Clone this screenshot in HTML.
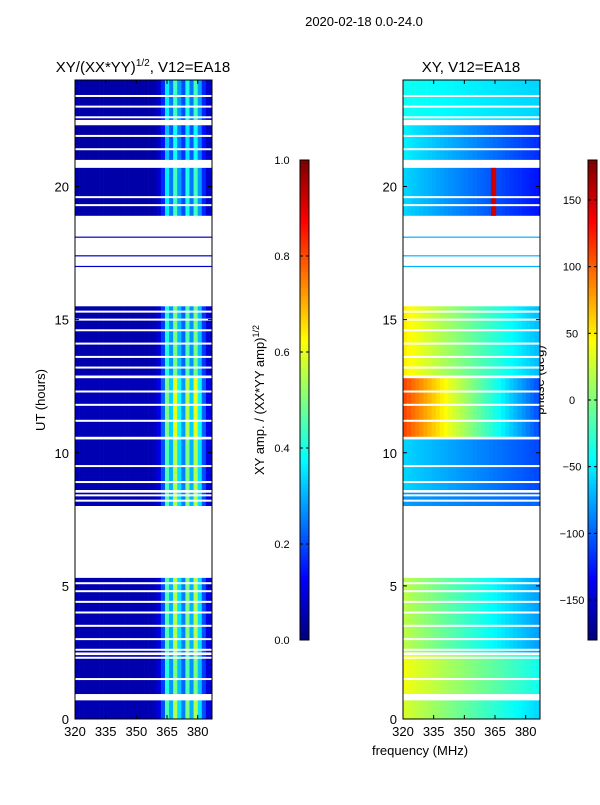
<!DOCTYPE html>
<html><head><meta charset="utf-8"><style>
body{margin:0;background:#fff;font-family:"Liberation Sans",sans-serif}
svg text{font-family:"Liberation Sans",sans-serif;fill:#000}
</style></head><body>
<svg id="fig" width="600" height="800" xmlns="http://www.w3.org/2000/svg">
<defs>
<clipPath id="c1"><rect x="75" y="80" width="137" height="639"/></clipPath>
<clipPath id="c2"><rect x="403" y="80" width="137" height="639"/></clipPath>
</defs>
<text x="364" y="26" font-size="13" text-anchor="middle">2020-02-18 0.0-24.0</text>
<text x="143" y="72" font-size="15" text-anchor="middle">XY/(XX*YY)<tspan font-size="10" dy="-6">1/2</tspan><tspan dy="6">, V12=EA18</tspan></text>
<text x="471" y="72" font-size="15" text-anchor="middle">XY, V12=EA18</text>
<text transform="translate(45,400) rotate(-90)" font-size="13" text-anchor="middle">UT (hours)</text>
<text x="420" y="755" font-size="13" text-anchor="middle">frequency (MHz)</text>
<text transform="translate(264,400) rotate(-90)" font-size="13" text-anchor="middle">XY amp. / (XX*YY amp)<tspan font-size="9" dy="-5">1/2</tspan></text>
<text transform="translate(544,380) rotate(-90)" font-size="13" text-anchor="middle">phase (deg)</text>
<g id="left" clip-path="url(#c1)"></g>
<g id="right" clip-path="url(#c2)"></g>
<g id="axes"></g>
</svg>
<script>
// data
const freqBins = [320,322,324,326,328,330,332,334,336,338,340,342,344,346,348,350,352,354,356,358,360,362,364,366,368,370,372,374,376,378,380,382,384,386];
const ampProfile = [0.05,0.05,0.05,0.05,0.05,0.05,0.05,0.05,0.05,0.05,0.05,0.05,0.05,0.05,0.05,0.05,0.05,0.05,0.05,0.06,0.1,0.2,0.45,0.3,0.55,0.35,0.25,0.5,0.3,0.55,0.35,0.2,0.1,0.08];
const segStart = [0.0,0.9,2.5,8.0,8.6,10.6,12.9,18.9,21.0,22.5];
const segEnd   = [0.7,2.4,5.3,8.5,10.5,12.8,15.5,20.7,22.3,24.0];
const segAmpScale = [1.0,0.9,1.0,1.0,1.0,1.1,0.9,0.8,0.7,0.8];
const segPhaseLeft  = [30,40,20,-80,-60,110,50,-60,-50,-40];
const segPhaseRight = [-60,-40,-80,-100,-110,-110,-70,-130,-120,-60];
const gapLines = [0.9,1.5,2.3,2.6,3.0,3.5,4.0,4.4,4.8,5.1,8.2,8.4,8.9,9.5,11.2,11.8,12.3,13.2,13.6,14.1,14.6,15.0,15.3,19.3,19.6,21.4,21.9,22.6,23.0,23.4];
const singleLines = [17.0,17.4,18.1];
const ampTicks=[0,0.2,0.4,0.6,0.8,1.0];
const phaseTicks=[-150,-100,-50,0,50,100,150];
const xTicks=[320,335,350,365,380];
const yTicks=[0,5,10,15,20];

const NS="http://www.w3.org/2000/svg";
const P1={x0:75,x1:212},P2={x0:403,x1:540},Y0=719,Y1=80;
const fx=(p,f)=>p.x0+(f-320)*(p.x1-p.x0)/67;
const fy=h=>Y0-h*(Y0-Y1)/24;
function jet(v){v=Math.max(0,Math.min(1,v));
 const r=Math.max(0,Math.min(1,1.5-Math.abs(4*v-3))),g=Math.max(0,Math.min(1,1.5-Math.abs(4*v-2))),b=Math.max(0,Math.min(1,1.5-Math.abs(4*v-1)));
 return `rgb(${Math.round(r*255)},${Math.round(g*255)},${Math.round(b*255)})`;}
function rect(g,x,y,w,h,fill,name){const r=document.createElementNS(NS,'rect');
 r.setAttribute('x',x);r.setAttribute('y',y);r.setAttribute('width',w);r.setAttribute('height',h);r.setAttribute('fill',fill);
 
 
 g.appendChild(r);return r;}
function line(g,x1,y1,x2,y2,w,c){const l=document.createElementNS(NS,'line');
 l.setAttribute('x1',x1);l.setAttribute('y1',y1);l.setAttribute('x2',x2);l.setAttribute('y2',y2);l.setAttribute('stroke',c||'#000');l.setAttribute('stroke-width',w||1);g.appendChild(l);return l;}
function text(g,x,y,s,anchor,size){const t=document.createElementNS(NS,'text');t.setAttribute('x',x);t.setAttribute('y',y);t.setAttribute('font-size',size||12);t.setAttribute('text-anchor',anchor);t.textContent=s;
 
 
 g.appendChild(t);}
const L=document.getElementById('left'),R=document.getElementById('right'),A=document.getElementById('axes');
const bw=2*(137/67);
segStart.forEach((s,i)=>{
 const y=fy(segEnd[i]),h=fy(s)-y;
 freqBins.forEach((f,j)=>{
  rect(L,fx(P1,f),y,bw+0.3,h,jet(ampProfile[j]*segAmpScale[i]),'amp-cell');
  const t=(f-320)/66;
  const ph=segPhaseLeft[i]*(1-t)+segPhaseRight[i]*t;
  rect(R,fx(P2,f),y,bw+0.3,h,jet((ph+180)/360),'phase-cell');
 });
});
// red phase stripe near 365 MHz 19-21h
rect(R,fx(P2,363),fy(20.7),bw*1.3,fy(18.9)-fy(20.7),jet(0.92),'phase-cell');
gapLines.forEach(h=>{rect(L,P1.x0,fy(h)-1,P1.x1-P1.x0,2,'#fff','gap');rect(R,P2.x0,fy(h)-1,P2.x1-P2.x0,2,'#fff','gap');});
singleLines.forEach(h=>{rect(L,P1.x0,fy(h)-0.5,P1.x1-P1.x0,1.2,jet(0.08),'amp-row');rect(R,P2.x0,fy(h)-0.5,P2.x1-P2.x0,1.2,jet(0.3),'phase-row');});
// axes frames and ticks
[P1,P2].forEach((p,k)=>{
 const fr=rect(A,p.x0,Y1,p.x1-p.x0,Y0-Y1,'none','panel-frame');fr.setAttribute('stroke','#000');
 xTicks.forEach(t=>{const x=fx(p,t);line(A,x,Y0,x,Y0-4);line(A,x,Y1,x,Y1+4);text(A,x,Y0+17,t,'middle',13);});
 yTicks.forEach(t=>{const y=fy(t);line(A,p.x0,y,p.x0+4,y);line(A,p.x1,y,p.x1-4,y);text(A,p.x0-6,y+5,t,'end',13);});
});
// colorbars
for(let i=0;i<120;i++){const v=i/119;
 rect(A,300,640-(i+1)*4,9,4.3,jet(v),'amp-colorbar-step');
 rect(A,588,640-(i+1)*4,9,4.3,jet(v),'phase-colorbar-step');}
[300,588].forEach(x=>{const f=rect(A,x,160,9,480,'none','colorbar-frame');f.setAttribute('stroke','#000');});
ampTicks.forEach(t=>{const y=640-t*480;line(A,300,y,303,y);line(A,309,y,306,y);text(A,282,y+4,t.toFixed(1),'middle',11);});
phaseTicks.forEach(t=>{const y=400-t*480/360;line(A,588,y,591,y);line(A,597,y,594,y);text(A,572,y+4,t<0?'\u2212'+(-t):t,'middle',11);});
</script>
</body></html>
